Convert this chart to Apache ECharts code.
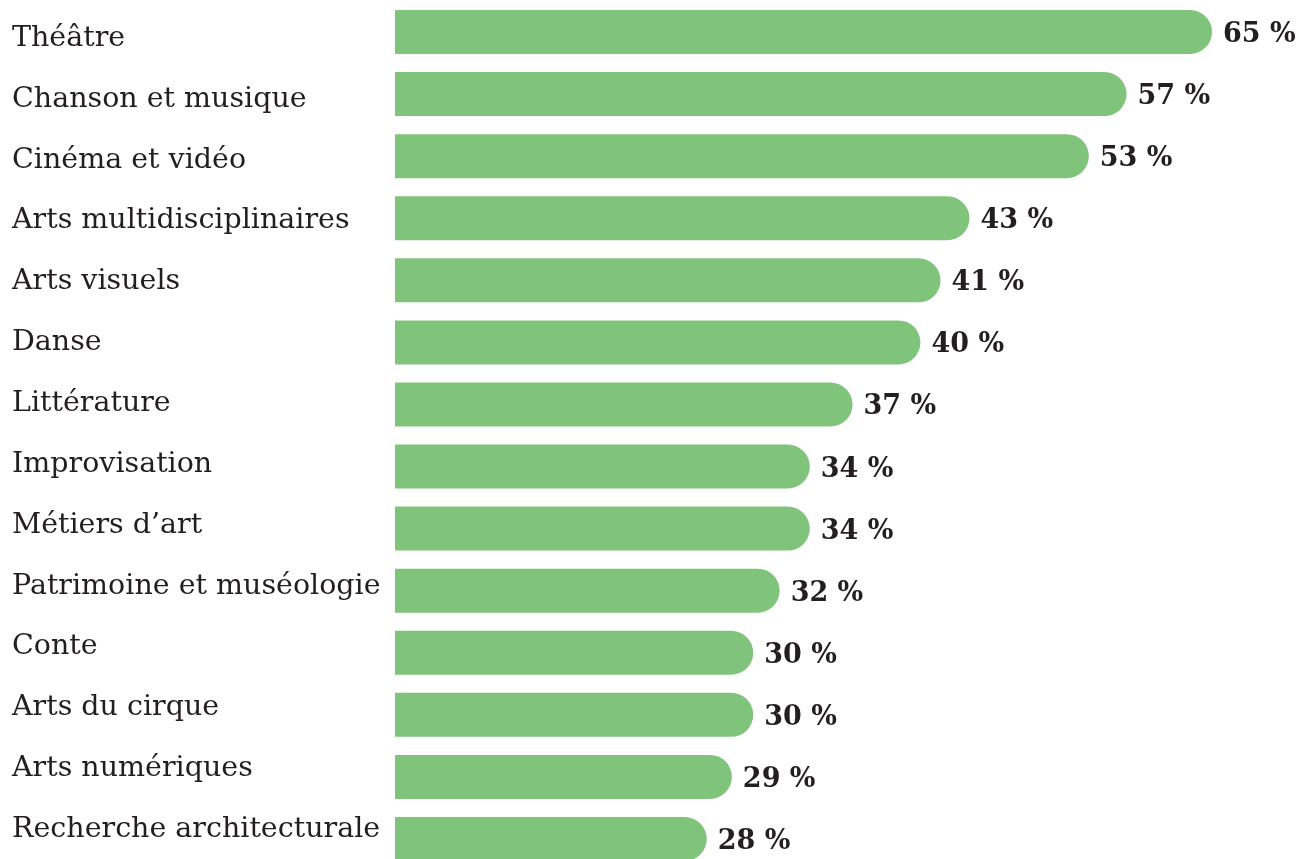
<!DOCTYPE html>
<html>
<head>
<meta charset="utf-8">
<script src="https://cdn.jsdelivr.net/npm/echarts@6/dist/echarts.min.js"></script>
<style>
html,body{margin:0;padding:0;background:#fff;}
#chart{width:1308px;height:859px;}
</style>
</head>
<body>
<div id="chart"></div>
<script>
var categories = ["Théâtre","Chanson et musique","Cinéma et vidéo","Arts multidisciplinaires","Arts visuels","Danse","Littérature","Improvisation","Métiers d’art","Patrimoine et muséologie","Conte","Arts du cirque","Arts numériques","Recherche architecturale"];
// Percentages printed on the bars
var shares = [65,57,53,43,41,40,37,34,34,32,30,30,29,28];
// Bar lengths as drawn in the reference (same % units)
var barLengths = [65.0,58.2,55.2,45.7,43.4,41.8,36.4,33.0,33.0,30.6,28.5,28.5,26.8,24.8];

var chart = echarts.init(document.getElementById('chart'));
chart.setOption({
  animation:false,
  backgroundColor:'#ffffff',
  grid:[
    {left:395,top:1,width:905,height:869,containLabel:false,outerBoundsMode:'none'},
    {left:395,top:8,width:905,height:852,containLabel:false,outerBoundsMode:'none'}
  ],
  xAxis:[
    {gridIndex:0,type:'value',min:0,max:72,show:false},
    {gridIndex:1,type:'value',min:0,max:72,show:false}
  ],
  yAxis:[
    {
      gridIndex:0,type:'category',data:categories,inverse:true,
      axisLine:{show:false},axisTick:{show:false},splitLine:{show:false},axisLabel:{show:false}
    },
    {
      gridIndex:1,type:'category',data:categories,inverse:true,
      axisLine:{show:false},axisTick:{show:false},splitLine:{show:false},
      axisLabel:{
        align:'left',margin:383,
        formatter:function(v){return '{c|'+v+'}';},
        rich:{c:{fontFamily:'DejaVu Serif',fontSize:28.5,color:'#231f20'}}
      }
    }
  ],
  series:[{
    type:'bar',
    xAxisIndex:0,yAxisIndex:0,
    data:barLengths,
    barWidth:44,
    itemStyle:{color:'#80C37B',borderRadius:[0,22,22,0]},
    label:{
      show:true,position:'right',distance:11,
      formatter:function(p){return '{v|'+shares[p.dataIndex]+' %}';},
      rich:{v:{fontFamily:'DejaVu Serif',fontWeight:'bold',fontSize:27,color:'#231f20',padding:[6,0,0,0]}}
    }
  }]
});
</script>
</body>
</html>
